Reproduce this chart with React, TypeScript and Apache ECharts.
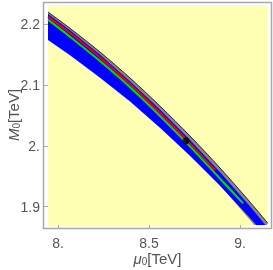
import React, { useEffect, useRef } from "react";
import * as echarts from "echarts";

const xTicks = [8, 8.5, 9];
const yTicks = [1.9, 2.0, 2.1, 2.2];

const bandX = [7.945, 8.066, 8.231, 8.396, 8.56, 8.725, 8.89, 9.055, 9.165];
const grayUpper = [2.2195, 2.1927, 2.1537, 2.1111, 2.0652, 2.0161, 1.9635, 1.9075, 1.8684];
const grayLower = [2.1973, 2.1699, 2.1298, 2.0863, 2.0394, 1.9893, 1.9358, 1.8788, 1.839];
const blueUpper = [2.216, 2.189, 2.149, 2.105, 2.059, 2.009, 1.956, 1.9, 1.86];
const blueLower = [2.174, 2.149, 2.112, 2.073, 2.03, 1.984, 1.935, 1.882, 1.846];

const redX = [7.945, 8.066, 8.231, 8.396, 8.56, 8.725, 8.863];
const redY = [2.212, 2.185, 2.145, 2.101, 2.054, 2.004, 1.96];

const greenX = [7.945, 8.066, 8.231, 8.396, 8.56, 8.725, 8.89, 9.016];
const greenY = [2.207, 2.179, 2.139, 2.096, 2.049, 1.999, 1.946, 1.906];

const bestFit = [8.703, 2.008];

const fmt = (v: number) => {
  const r = Math.round(v * 10) / 10;
  return Number.isInteger(r) ? r + "." : String(r);
};

const band = (upper: number[], lower: number[], fill: string, z: number) => ({
  type: "custom",
  clip: true,
  silent: true,
  z,
  data: [[bandX[0], upper[0]]],
  renderItem: (_p: any, api: any) => {
    const pts: number[][] = [];
    for (let i = 0; i < bandX.length; i++) pts.push(api.coord([bandX[i], upper[i]]));
    for (let i = bandX.length - 1; i >= 0; i--) pts.push(api.coord([bandX[i], lower[i]]));
    return { type: "polygon", shape: { points: pts, smooth: 0 }, style: { fill, stroke: fill, lineWidth: 0.5 } };
  },
});

const lineOf = (xs: number[], ys: number[], color: string, width: number, z: number) => ({
  type: "line",
  data: xs.map((x, i) => [x, ys[i]]),
  showSymbol: false,
  symbol: "none",
  smooth: 0.3,
  clip: true,
  silent: true,
  z,
  lineStyle: { color, width },
});

export default function App() {
  const ref = useRef<HTMLDivElement>(null);
  useEffect(() => {
    if (!ref.current) return;
    const chart = echarts.init(ref.current, undefined, { renderer: "svg" });
    const labelColor = "#555555";
    const font = "Liberation Sans, Arial, sans-serif";
    const rich = {
      i: { fontStyle: "italic", fontSize: 15, color: labelColor, fontFamily: font },
      s: { fontSize: 10, color: labelColor, fontFamily: font, verticalAlign: "bottom", padding: [5, 0, 0, 0] },
      n: { fontSize: 15, color: labelColor, fontFamily: font },
    };
    chart.setOption({
      animation: false,
      grid: {
        left: 48,
        top: 5,
        width: 219,
        height: 220,
        show: true,
        backgroundColor: "#ffffb4",
        borderWidth: 0,
        containLabel: false,
        outerBoundsMode: "none",
      },
      xAxis: {
        type: "value",
        min: 7.945,
        max: 9.148,
        axisLine: { show: false },
        splitLine: { show: false },
        axisTick: { show: true, customValues: xTicks, length: 3, lineStyle: { color: "#aaaaaa" } },
        axisLabel: { customValues: xTicks, formatter: fmt, color: labelColor, fontSize: 14, fontFamily: font, margin: 11 },
        name: "{i|μ}{s|0}{n|[TeV]}",
        nameLocation: "middle",
        nameGap: 26,
        nameMoveOverlap: false,
        nameTextStyle: { color: labelColor, fontFamily: font, rich },
      },
      yAxis: {
        type: "value",
        min: 1.87,
        max: 2.231,
        axisLine: { show: false },
        splitLine: { show: false },
        axisTick: { show: true, customValues: yTicks, length: 4, lineStyle: { color: "#aaaaaa" } },
        axisLabel: { customValues: yTicks, formatter: fmt, color: labelColor, fontSize: 14, fontFamily: font, margin: 8 },
        name: "{i|M}{s|0}{n|[TeV]}",
        nameLocation: "middle",
        nameRotate: 90,
        nameGap: 27,
        nameMoveOverlap: false,
        nameTextStyle: { color: labelColor, fontFamily: font, rich },
      },
      graphic: [
        {
          type: "rect",
          shape: { x: 43.5, y: 2.5, width: 228, height: 226 },
          style: { fill: "none", stroke: "#a9a9a9", lineWidth: 1.5 },
          silent: true,
          z: 100,
        },
      ],
      series: [
        band(grayUpper, grayLower, "#858585", 2),
        lineOf(bandX, grayUpper, "#2a2a3a", 1, 3),
        band(blueUpper, blueLower, "#0000ff", 4),
        lineOf(redX, redY, "#ee0000", 2, 5),
        lineOf(greenX, greenY, "#00e000", 2, 6),
        {
          type: "scatter",
          data: [bestFit],
          symbolSize: 7,
          itemStyle: { color: "#000000" },
          silent: true,
          z: 10,
        },
      ],
    });
    return () => chart.dispose();
  }, []);
  return <div ref={ref} style={{ position: "fixed", left: 0, top: 0, width: 273, height: 270 }} />;
}
